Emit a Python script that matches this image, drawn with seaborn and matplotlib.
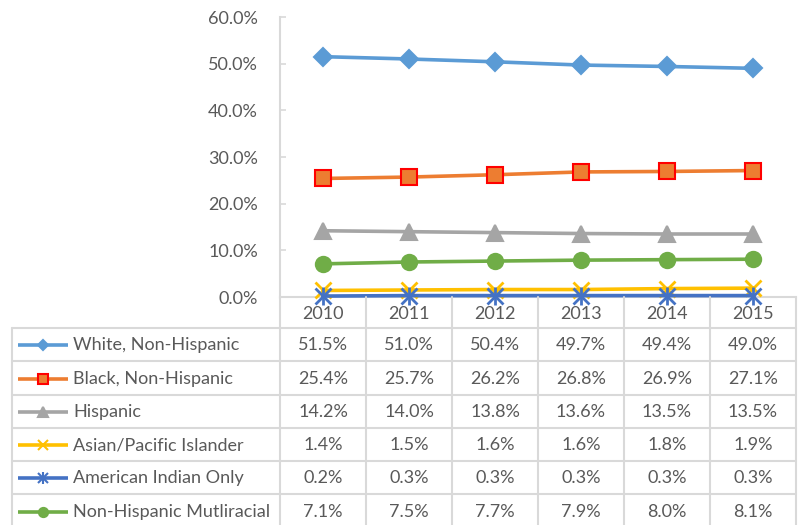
import numpy as np
import pandas as pd
import matplotlib
matplotlib.use("Agg")
import matplotlib.pyplot as plt
import seaborn as sns

years = [2010, 2011, 2012, 2013, 2014, 2015]
white = [51.5, 51.0, 50.4, 49.7, 49.4, 49.0]
black = [25.4, 25.7, 26.2, 26.8, 26.9, 27.1]
hispanic = [14.2, 14.0, 13.8, 13.6, 13.5, 13.5]
asian = [1.4, 1.5, 1.6, 1.6, 1.8, 1.9]
am_indian = [0.2, 0.3, 0.3, 0.3, 0.3, 0.3]
multiracial = [7.1, 7.5, 7.7, 7.9, 8.0, 8.1]

series_names = ["White, Non-Hispanic", "Black, Non-Hispanic", "Hispanic",
                "Asian/Pacific Islander", "American Indian Only", "Non-Hispanic Mutliracial"]
series_values = [white, black, hispanic, asian, am_indian, multiracial]

# Excel-like styling for each series
styles = {
    "White, Non-Hispanic": dict(color="#5B9BD5", marker="D", ms=9, mec="#5B9BD5", mfc="#5B9BD5"),
    "Black, Non-Hispanic": dict(color="#ED7D31", marker="s", ms=11, mec="#FF0000", mfc="#ED7D31"),
    "Hispanic": dict(color="#A5A5A5", marker="^", ms=12, mec="#A5A5A5", mfc="#A5A5A5"),
    "Asian/Pacific Islander": dict(color="#FFC000", marker="x", ms=11, mec="#FFC000", mfc="#FFC000"),
    "American Indian Only": dict(color="#4472C4", marker="x", ms=11, mec="#4472C4", mfc="#4472C4"),
    "Non-Hispanic Mutliracial": dict(color="#70AD47", marker="o", ms=11, mec="#70AD47", mfc="#70AD47"),
}

sns.set_theme(style="white")
plt.rcParams['font.family'] = ['Lato', 'DejaVu Sans']
txt_color = "#595959"
grid_color = "#D9D9D9"
fsize = 13

W, H = 802, 525
fig = plt.figure(figsize=(W / 100, H / 100), dpi=100)


def px_rect(x0, y0, x1, y1):
    return [x0 / W, 1 - y1 / H, (x1 - x0) / W, (y1 - y0) / H]


ax = fig.add_axes(px_rect(280, 17, 796, 297))
tab = fig.add_axes(px_rect(12, 297, 796, 530))

df = pd.DataFrame({"year": np.repeat(years, len(series_names)),
                   "group": series_names * len(years),
                   "value": np.array(series_values).T.flatten()})

for name in series_names:
    st = styles[name]
    sub = df[df["group"] == name]
    sns.lineplot(data=sub, x="year", y="value", ax=ax, color=st["color"], lw=2.6,
                 marker=st["marker"], markersize=st["ms"], markeredgecolor=st["mec"],
                 markerfacecolor=st["mfc"], markeredgewidth=1.5 if st["marker"] != "x" else 2,
                 zorder=3, clip_on=False)
    if name == "American Indian Only":
        # Excel star marker: x plus vertical stroke
        ax.plot(sub["year"], sub["value"], ls="none", marker="|", ms=13,
                mec=st["color"], mew=2, zorder=4, clip_on=False)

ax.set_xlim(2009.5, 2015.5)
ax.set_ylim(0, 60)
ax.set_yticks(np.arange(0, 61, 10))
ax.yaxis.set_major_formatter(matplotlib.ticker.FuncFormatter(lambda v, p: f"{v:.1f}%"))
ax.set_xticks([])
ax.set_xlabel("")
ax.set_ylabel("")
ax.tick_params(axis="y", direction="in", length=4, width=1.2, color=grid_color,
               labelsize=fsize, labelcolor=txt_color, pad=16, left=True)
for s in ["top", "right"]:
    ax.spines[s].set_visible(False)
for s in ["left", "bottom"]:
    ax.spines[s].set_color(grid_color)
    ax.spines[s].set_linewidth(1.5)
ax.set_facecolor("none")

# data table under the chart
col_w = 86.0
xmin = 2009.5 - 268 / col_w
xmax = 2015.5
tab.set_xlim(xmin, xmax)
tab.set_ylim(7.0, 0)
tab.axis("off")
tab.patch.set_alpha(0)

h0 = 0.93
row_edges = [0] + [h0 + i for i in range(7)]
for y in row_edges[1:]:
    tab.plot([xmin, xmax], [y, y], color=grid_color, lw=1.5, clip_on=False)
for xb in np.arange(2009.5, 2016, 1):
    tab.plot([xb, xb], [0, 7.2], color=grid_color, lw=1.5, clip_on=False)
tab.plot([xmin, xmin], [h0, 7.2], color=grid_color, lw=1.5, clip_on=False)

for yr in years:
    tab.text(yr, h0 / 2 + 0.04, str(yr), ha="center", va="center", fontsize=fsize, color=txt_color)

x_line0 = xmin + 6 / col_w
x_line1 = xmin + 56 / col_w
x_text = xmin + 61 / col_w
for i, name in enumerate(series_names):
    yc = h0 + i + 0.52
    st = styles[name]
    tab.plot([x_line0, x_line1], [yc, yc], color=st["color"], lw=2.6, solid_capstyle="butt")
    tab.plot([(x_line0 + x_line1) / 2], [yc], ls="none", marker=st["marker"],
             ms=st["ms"] * 0.6, mec=st["mec"], mfc=st["mfc"], mew=1.5)
    if name == "American Indian Only":
        tab.plot([(x_line0 + x_line1) / 2], [yc], ls="none", marker="|", ms=8,
                 mec=st["color"], mew=1.5)
    tab.text(x_text, yc, name, ha="left", va="center", fontsize=fsize, color=txt_color)
    for yr, v in zip(years, series_values[i]):
        tab.text(yr, yc, f"{v:.1f}%", ha="center", va="center", fontsize=fsize, color=txt_color)

fig.savefig("out.png", dpi=100)
